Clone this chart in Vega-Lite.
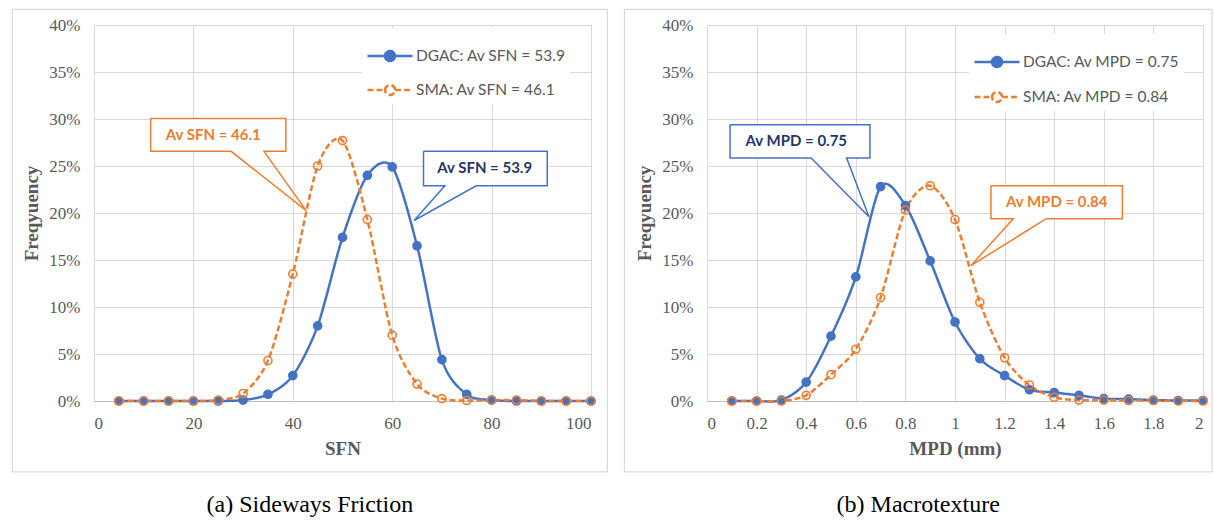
{
  "$schema": "https://vega.github.io/schema/vega-lite/v6.json",
  "background": "white",
  "padding": {"left": 11, "top": 8, "right": 0, "bottom": 0},
  "config": {
    "view": {"stroke": "#D9D9D9"},
    "axis": {
      "labelFont": "Liberation Serif", "labelFontSize": 17, "labelColor": "#595959",
      "titleFont": "Liberation Serif", "titleFontSize": 19, "titleFontWeight": "bold", "titleColor": "#595959",
      "gridColor": "#D9D9D9", "ticks": false, "domain": false
    },
    "axisX": {"domain": true, "domainColor": "#BFBFBF", "labelPadding": 14, "titlePadding": 8},
    "axisY": {"labelPadding": 14, "titlePadding": 7}
  },
  "datasets": {
    "sfn": [
      {"sfn": 5, "freq": 0, "series": "DGAC: Av SFN = 53.9"},
      {"sfn": 10, "freq": 0, "series": "DGAC: Av SFN = 53.9"},
      {"sfn": 15, "freq": 0, "series": "DGAC: Av SFN = 53.9"},
      {"sfn": 20, "freq": 0, "series": "DGAC: Av SFN = 53.9"},
      {"sfn": 25, "freq": 0, "series": "DGAC: Av SFN = 53.9"},
      {"sfn": 30, "freq": 0.001, "series": "DGAC: Av SFN = 53.9"},
      {"sfn": 35, "freq": 0.007, "series": "DGAC: Av SFN = 53.9"},
      {"sfn": 40, "freq": 0.027, "series": "DGAC: Av SFN = 53.9"},
      {"sfn": 45, "freq": 0.080, "series": "DGAC: Av SFN = 53.9"},
      {"sfn": 50, "freq": 0.174, "series": "DGAC: Av SFN = 53.9"},
      {"sfn": 55, "freq": 0.240, "series": "DGAC: Av SFN = 53.9"},
      {"sfn": 60, "freq": 0.249, "series": "DGAC: Av SFN = 53.9"},
      {"sfn": 65, "freq": 0.165, "series": "DGAC: Av SFN = 53.9"},
      {"sfn": 70, "freq": 0.044, "series": "DGAC: Av SFN = 53.9"},
      {"sfn": 75, "freq": 0.007, "series": "DGAC: Av SFN = 53.9"},
      {"sfn": 80, "freq": 0.001, "series": "DGAC: Av SFN = 53.9"},
      {"sfn": 85, "freq": 0, "series": "DGAC: Av SFN = 53.9"},
      {"sfn": 90, "freq": 0, "series": "DGAC: Av SFN = 53.9"},
      {"sfn": 95, "freq": 0, "series": "DGAC: Av SFN = 53.9"},
      {"sfn": 100, "freq": 0, "series": "DGAC: Av SFN = 53.9"},
      {"sfn": 5, "freq": 0, "series": "SMA: Av SFN = 46.1"},
      {"sfn": 10, "freq": 0, "series": "SMA: Av SFN = 46.1"},
      {"sfn": 15, "freq": 0, "series": "SMA: Av SFN = 46.1"},
      {"sfn": 20, "freq": 0, "series": "SMA: Av SFN = 46.1"},
      {"sfn": 25, "freq": 0.001, "series": "SMA: Av SFN = 46.1"},
      {"sfn": 30, "freq": 0.008, "series": "SMA: Av SFN = 46.1"},
      {"sfn": 35, "freq": 0.043, "series": "SMA: Av SFN = 46.1"},
      {"sfn": 40, "freq": 0.135, "series": "SMA: Av SFN = 46.1"},
      {"sfn": 45, "freq": 0.250, "series": "SMA: Av SFN = 46.1"},
      {"sfn": 50, "freq": 0.277, "series": "SMA: Av SFN = 46.1"},
      {"sfn": 55, "freq": 0.193, "series": "SMA: Av SFN = 46.1"},
      {"sfn": 60, "freq": 0.070, "series": "SMA: Av SFN = 46.1"},
      {"sfn": 65, "freq": 0.018, "series": "SMA: Av SFN = 46.1"},
      {"sfn": 70, "freq": 0.0025, "series": "SMA: Av SFN = 46.1"},
      {"sfn": 75, "freq": 0.0005, "series": "SMA: Av SFN = 46.1"},
      {"sfn": 80, "freq": 0.001, "series": "SMA: Av SFN = 46.1"},
      {"sfn": 85, "freq": 0.001, "series": "SMA: Av SFN = 46.1"},
      {"sfn": 90, "freq": 0, "series": "SMA: Av SFN = 46.1"},
      {"sfn": 95, "freq": 0, "series": "SMA: Av SFN = 46.1"},
      {"sfn": 100, "freq": 0, "series": "SMA: Av SFN = 46.1"}
    ],
    "mpd": [
      {"mpd": 0.1, "freq": 0, "series": "DGAC: Av MPD = 0.75"},
      {"mpd": 0.2, "freq": 0, "series": "DGAC: Av MPD = 0.75"},
      {"mpd": 0.3, "freq": 0.001, "series": "DGAC: Av MPD = 0.75"},
      {"mpd": 0.4, "freq": 0.020, "series": "DGAC: Av MPD = 0.75"},
      {"mpd": 0.5, "freq": 0.069, "series": "DGAC: Av MPD = 0.75"},
      {"mpd": 0.6, "freq": 0.132, "series": "DGAC: Av MPD = 0.75"},
      {"mpd": 0.7, "freq": 0.228, "series": "DGAC: Av MPD = 0.75"},
      {"mpd": 0.8, "freq": 0.208, "series": "DGAC: Av MPD = 0.75"},
      {"mpd": 0.9, "freq": 0.149, "series": "DGAC: Av MPD = 0.75"},
      {"mpd": 1.0, "freq": 0.084, "series": "DGAC: Av MPD = 0.75"},
      {"mpd": 1.1, "freq": 0.045, "series": "DGAC: Av MPD = 0.75"},
      {"mpd": 1.2, "freq": 0.027, "series": "DGAC: Av MPD = 0.75"},
      {"mpd": 1.3, "freq": 0.012, "series": "DGAC: Av MPD = 0.75"},
      {"mpd": 1.4, "freq": 0.009, "series": "DGAC: Av MPD = 0.75"},
      {"mpd": 1.5, "freq": 0.006, "series": "DGAC: Av MPD = 0.75"},
      {"mpd": 1.6, "freq": 0.0025, "series": "DGAC: Av MPD = 0.75"},
      {"mpd": 1.7, "freq": 0.002, "series": "DGAC: Av MPD = 0.75"},
      {"mpd": 1.8, "freq": 0.001, "series": "DGAC: Av MPD = 0.75"},
      {"mpd": 1.9, "freq": 0.0005, "series": "DGAC: Av MPD = 0.75"},
      {"mpd": 2.0, "freq": 0.0005, "series": "DGAC: Av MPD = 0.75"},
      {"mpd": 0.1, "freq": 0, "series": "SMA: Av MPD = 0.84"},
      {"mpd": 0.2, "freq": 0, "series": "SMA: Av MPD = 0.84"},
      {"mpd": 0.3, "freq": 0, "series": "SMA: Av MPD = 0.84"},
      {"mpd": 0.4, "freq": 0.006, "series": "SMA: Av MPD = 0.84"},
      {"mpd": 0.5, "freq": 0.028, "series": "SMA: Av MPD = 0.84"},
      {"mpd": 0.6, "freq": 0.055, "series": "SMA: Av MPD = 0.84"},
      {"mpd": 0.7, "freq": 0.110, "series": "SMA: Av MPD = 0.84"},
      {"mpd": 0.8, "freq": 0.203, "series": "SMA: Av MPD = 0.84"},
      {"mpd": 0.9, "freq": 0.229, "series": "SMA: Av MPD = 0.84"},
      {"mpd": 1.0, "freq": 0.193, "series": "SMA: Av MPD = 0.84"},
      {"mpd": 1.1, "freq": 0.105, "series": "SMA: Av MPD = 0.84"},
      {"mpd": 1.2, "freq": 0.046, "series": "SMA: Av MPD = 0.84"},
      {"mpd": 1.3, "freq": 0.017, "series": "SMA: Av MPD = 0.84"},
      {"mpd": 1.4, "freq": 0.004, "series": "SMA: Av MPD = 0.84"},
      {"mpd": 1.5, "freq": 0.001, "series": "SMA: Av MPD = 0.84"},
      {"mpd": 1.6, "freq": 0.001, "series": "SMA: Av MPD = 0.84"},
      {"mpd": 1.7, "freq": 0.0005, "series": "SMA: Av MPD = 0.84"},
      {"mpd": 1.8, "freq": 0.0005, "series": "SMA: Av MPD = 0.84"},
      {"mpd": 1.9, "freq": 0, "series": "SMA: Av MPD = 0.84"},
      {"mpd": 2.0, "freq": 0, "series": "SMA: Av MPD = 0.84"}
    ],
    "callouts": [
      {"id": "a_sma", "label": "Av SFN = 46.1", "x1": 11.4, "x2": 38.6, "y1": 0.2656, "y2": 0.3005, "tx": 24, "ty": 0.283},
      {"id": "a_dgac", "label": "Av SFN = 53.9", "x1": 66.3, "x2": 91.2, "y1": 0.229, "y2": 0.2656, "tx": 78.6, "ty": 0.2475},
      {"id": "b_dgac", "label": "Av MPD = 0.75", "x1": 0.093, "x2": 0.657, "y1": 0.2585, "y2": 0.294, "tx": 0.36, "ty": 0.2763},
      {"id": "b_sma", "label": "Av MPD = 0.84", "x1": 1.145, "x2": 1.675, "y1": 0.194, "y2": 0.229, "tx": 1.41, "ty": 0.2114}
    ],
    "outlines": [
      {"id": "a_sma", "i": 0, "x": 11.4, "y": 0.3005},
      {"id": "a_sma", "i": 1, "x": 38.6, "y": 0.3005},
      {"id": "a_sma", "i": 2, "x": 38.6, "y": 0.2656},
      {"id": "a_sma", "i": 3, "x": 34.2, "y": 0.2656},
      {"id": "a_sma", "i": 4, "x": 42.7, "y": 0.2025},
      {"id": "a_sma", "i": 5, "x": 27.6, "y": 0.2656},
      {"id": "a_sma", "i": 6, "x": 11.4, "y": 0.2656},
      {"id": "a_sma", "i": 7, "x": 11.4, "y": 0.3005},
      {"id": "a_dgac", "i": 0, "x": 66.3, "y": 0.2656},
      {"id": "a_dgac", "i": 1, "x": 91.2, "y": 0.2656},
      {"id": "a_dgac", "i": 2, "x": 91.2, "y": 0.229},
      {"id": "a_dgac", "i": 3, "x": 76.9, "y": 0.229},
      {"id": "a_dgac", "i": 4, "x": 64.4, "y": 0.192},
      {"id": "a_dgac", "i": 5, "x": 70.6, "y": 0.229},
      {"id": "a_dgac", "i": 6, "x": 66.3, "y": 0.229},
      {"id": "a_dgac", "i": 7, "x": 66.3, "y": 0.2656},
      {"id": "b_dgac", "i": 0, "x": 0.093, "y": 0.294},
      {"id": "b_dgac", "i": 1, "x": 0.657, "y": 0.294},
      {"id": "b_dgac", "i": 2, "x": 0.657, "y": 0.2585},
      {"id": "b_dgac", "i": 3, "x": 0.563, "y": 0.2585},
      {"id": "b_dgac", "i": 4, "x": 0.653, "y": 0.196},
      {"id": "b_dgac", "i": 5, "x": 0.42, "y": 0.2585},
      {"id": "b_dgac", "i": 6, "x": 0.093, "y": 0.2585},
      {"id": "b_dgac", "i": 7, "x": 0.093, "y": 0.294},
      {"id": "b_sma", "i": 0, "x": 1.145, "y": 0.229},
      {"id": "b_sma", "i": 1, "x": 1.675, "y": 0.229},
      {"id": "b_sma", "i": 2, "x": 1.675, "y": 0.194},
      {"id": "b_sma", "i": 3, "x": 1.368, "y": 0.194},
      {"id": "b_sma", "i": 4, "x": 1.064, "y": 0.144},
      {"id": "b_sma", "i": 5, "x": 1.235, "y": 0.194},
      {"id": "b_sma", "i": 6, "x": 1.145, "y": 0.194},
      {"id": "b_sma", "i": 7, "x": 1.145, "y": 0.229}
    ]
  },
  "spacing": 14,
  "resolve": {"scale": {"x": "independent", "y": "independent", "color": "independent", "strokeDash": "independent", "stroke": "independent", "fill": "independent"}},
  "hconcat": [
    {
      "width": 497, "height": 376,
      "title": {"text": "(a) Sideways Friction", "orient": "bottom", "anchor": "middle", "frame": "bounds", "font": "Liberation Serif", "fontSize": 24, "fontWeight": "normal", "color": "#000000", "offset": 20},
      "layer": [
        {
          "data": {"values": [{}]},
          "mark": {"type": "rect", "fillOpacity": 0, "stroke": "#D9D9D9", "strokeWidth": 1.2},
          "encoding": {
            "x": {"datum": -16.42, "type": "quantitative", "title": "SFN"},
            "x2": {"datum": 103.3},
            "y": {"datum": -0.0755, "type": "quantitative", "title": "Freqyuency"},
            "y2": {"datum": 0.4166}
          }
        },
        {
          "data": {"name": "sfn"},
          "mark": {"type": "line", "interpolate": "cardinal", "tension": 0.15, "strokeWidth": 2.5},
          "encoding": {
            "x": {"field": "sfn", "type": "quantitative", "title": "SFN", "scale": {"domain": [0, 100], "nice": false, "zero": false},
                  "axis": {"values": [0, 20, 40, 60, 80, 100], "format": "d", "grid": true}},
            "y": {"field": "freq", "type": "quantitative", "title": "Freqyuency", "scale": {"domain": [0, 0.4], "nice": false},
                  "axis": {"values": [0, 0.05, 0.1, 0.15, 0.2, 0.25, 0.3, 0.35, 0.4], "format": ".0%", "grid": true}},
            "color": {"field": "series", "type": "nominal",
              "scale": {"domain": ["DGAC: Av SFN = 53.9", "SMA: Av SFN = 46.1"], "range": ["#4472C4", "#ED7D31"]},
              "legend": {
                "title": null, "orient": "none", "legendX": 268, "legendY": 3, "fillColor": "white", "padding": 4,
                "symbolType": "M-1,0H-0.22M0.22,0H1M-0.22,0A0.22,0.22 0 1,1 0.22,0A0.22,0.22 0 1,1 -0.22,0",
                "symbolSize": 2025, "symbolStrokeWidth": 2.5, "rowPadding": 0, "labelOffset": 2,
                "labelFont": "Lato", "labelFontSize": 15.5, "labelColor": "#595959", "labelLimit": 300,
                "encode": {"symbols": {"update": {"fill": {"signal": "indexof(datum.value, 'SMA') === 0 ? 'white' : '#4472C4'"}}}}
              }},
            "strokeDash": {"field": "series", "type": "nominal",
              "scale": {"domain": ["DGAC: Av SFN = 53.9", "SMA: Av SFN = 46.1"], "range": [[1, 0], [6, 3]]}}
          }
        },
        {
          "data": {"name": "sfn"},
          "mark": {"type": "point", "shape": "circle", "filled": true, "size": 65, "strokeWidth": 1.6, "opacity": 1},
          "encoding": {
            "x": {"field": "sfn", "type": "quantitative", "title": "SFN"},
            "y": {"field": "freq", "type": "quantitative", "title": "Freqyuency"},
            "stroke": {"field": "series", "type": "nominal", "legend": null,
              "scale": {"domain": ["DGAC: Av SFN = 53.9", "SMA: Av SFN = 46.1"], "range": ["#4472C4", "#ED7D31"]}},
            "fill": {"field": "series", "type": "nominal", "legend": null,
              "scale": {"domain": ["DGAC: Av SFN = 53.9", "SMA: Av SFN = 46.1"], "range": ["#4472C4", "transparent"]}}
          }
        },
        {
          "data": {"name": "callouts"},
          "transform": [{"filter": "datum.id === 'a_sma' || datum.id === 'a_dgac'"}],
          "mark": {"type": "rect", "fill": "white"},
          "encoding": {
            "x": {"field": "x1", "type": "quantitative", "title": "SFN"},
            "x2": {"field": "x2"},
            "y": {"field": "y1", "type": "quantitative", "title": "Freqyuency"},
            "y2": {"field": "y2"}
          }
        },
        {
          "data": {"name": "outlines"},
          "transform": [{"filter": "datum.id === 'a_sma'"}],
          "mark": {"type": "line", "color": "#ED7D31", "strokeWidth": 1.5, "strokeJoin": "miter"},
          "encoding": {
            "x": {"field": "x", "type": "quantitative", "title": "SFN"},
            "y": {"field": "y", "type": "quantitative", "title": "Freqyuency"},
            "order": {"field": "i", "type": "quantitative"}
          }
        },
        {
          "data": {"name": "outlines"},
          "transform": [{"filter": "datum.id === 'a_dgac'"}],
          "mark": {"type": "line", "color": "#4472C4", "strokeWidth": 1.5, "strokeJoin": "miter"},
          "encoding": {
            "x": {"field": "x", "type": "quantitative", "title": "SFN"},
            "y": {"field": "y", "type": "quantitative", "title": "Freqyuency"},
            "order": {"field": "i", "type": "quantitative"}
          }
        },
        {
          "data": {"name": "callouts"},
          "transform": [{"filter": "datum.id === 'a_sma'"}],
          "mark": {"type": "text", "font": "Lato", "fontSize": 15, "fontWeight": "bold", "color": "#ED7D31", "baseline": "middle", "align": "center"},
          "encoding": {
            "x": {"field": "tx", "type": "quantitative", "title": "SFN"},
            "y": {"field": "ty", "type": "quantitative", "title": "Freqyuency"},
            "text": {"field": "label"}
          }
        },
        {
          "data": {"name": "callouts"},
          "transform": [{"filter": "datum.id === 'a_dgac'"}],
          "mark": {"type": "text", "font": "Lato", "fontSize": 15, "fontWeight": "bold", "color": "#1F3864", "baseline": "middle", "align": "center"},
          "encoding": {
            "x": {"field": "tx", "type": "quantitative", "title": "SFN"},
            "y": {"field": "ty", "type": "quantitative", "title": "Freqyuency"},
            "text": {"field": "label"}
          }
        }
      ]
    },
    {
      "width": 496, "height": 376,
      "title": {"text": "(b) Macrotexture", "orient": "bottom", "anchor": "middle", "frame": "bounds", "font": "Liberation Serif", "fontSize": 24, "fontWeight": "normal", "color": "#000000", "offset": 20},
      "layer": [
        {
          "data": {"values": [{}]},
          "mark": {"type": "rect", "fillOpacity": 0, "stroke": "#D9D9D9", "strokeWidth": 1.2},
          "encoding": {
            "x": {"datum": -0.3327, "type": "quantitative", "title": "MPD (mm)"},
            "x2": {"datum": 2.036},
            "y": {"datum": -0.0755, "type": "quantitative", "title": "Freqyuency"},
            "y2": {"datum": 0.4166}
          }
        },
        {
          "data": {"name": "mpd"},
          "mark": {"type": "line", "interpolate": "cardinal", "tension": 0.15, "strokeWidth": 2.5},
          "encoding": {
            "x": {"field": "mpd", "type": "quantitative", "title": "MPD (mm)", "scale": {"domain": [0, 2], "nice": false, "zero": false},
                  "axis": {"values": [0, 0.2, 0.4, 0.6, 0.8, 1, 1.2, 1.4, 1.6, 1.8, 2], "format": "~g", "grid": true}},
            "y": {"field": "freq", "type": "quantitative", "title": "Freqyuency", "scale": {"domain": [0, 0.4], "nice": false},
                  "axis": {"values": [0, 0.05, 0.1, 0.15, 0.2, 0.25, 0.3, 0.35, 0.4], "format": ".0%", "grid": true}},
            "color": {"field": "series", "type": "nominal",
              "scale": {"domain": ["DGAC: Av MPD = 0.75", "SMA: Av MPD = 0.84"], "range": ["#4472C4", "#ED7D31"]},
              "legend": {
                "title": null, "orient": "none", "legendX": 262, "legendY": 9, "fillColor": "white", "padding": 4,
                "symbolType": "M-1,0H-0.22M0.22,0H1M-0.22,0A0.22,0.22 0 1,1 0.22,0A0.22,0.22 0 1,1 -0.22,0",
                "symbolSize": 2025, "symbolStrokeWidth": 2.5, "rowPadding": 1, "labelOffset": 2,
                "labelFont": "Lato", "labelFontSize": 15.5, "labelColor": "#595959", "labelLimit": 300,
                "encode": {"symbols": {"update": {"fill": {"signal": "indexof(datum.value, 'SMA') === 0 ? 'white' : '#4472C4'"}}}}
              }},
            "strokeDash": {"field": "series", "type": "nominal",
              "scale": {"domain": ["DGAC: Av MPD = 0.75", "SMA: Av MPD = 0.84"], "range": [[1, 0], [6, 3]]}}
          }
        },
        {
          "data": {"name": "mpd"},
          "mark": {"type": "point", "shape": "circle", "filled": true, "size": 65, "strokeWidth": 1.6, "opacity": 1},
          "encoding": {
            "x": {"field": "mpd", "type": "quantitative", "title": "MPD (mm)"},
            "y": {"field": "freq", "type": "quantitative", "title": "Freqyuency"},
            "stroke": {"field": "series", "type": "nominal", "legend": null,
              "scale": {"domain": ["DGAC: Av MPD = 0.75", "SMA: Av MPD = 0.84"], "range": ["#4472C4", "#ED7D31"]}},
            "fill": {"field": "series", "type": "nominal", "legend": null,
              "scale": {"domain": ["DGAC: Av MPD = 0.75", "SMA: Av MPD = 0.84"], "range": ["#4472C4", "transparent"]}}
          }
        },
        {
          "data": {"name": "callouts"},
          "transform": [{"filter": "datum.id === 'b_sma' || datum.id === 'b_dgac'"}],
          "mark": {"type": "rect", "fill": "white"},
          "encoding": {
            "x": {"field": "x1", "type": "quantitative", "title": "MPD (mm)"},
            "x2": {"field": "x2"},
            "y": {"field": "y1", "type": "quantitative", "title": "Freqyuency"},
            "y2": {"field": "y2"}
          }
        },
        {
          "data": {"name": "outlines"},
          "transform": [{"filter": "datum.id === 'b_dgac'"}],
          "mark": {"type": "line", "color": "#4472C4", "strokeWidth": 1.5, "strokeJoin": "miter"},
          "encoding": {
            "x": {"field": "x", "type": "quantitative", "title": "MPD (mm)"},
            "y": {"field": "y", "type": "quantitative", "title": "Freqyuency"},
            "order": {"field": "i", "type": "quantitative"}
          }
        },
        {
          "data": {"name": "outlines"},
          "transform": [{"filter": "datum.id === 'b_sma'"}],
          "mark": {"type": "line", "color": "#ED7D31", "strokeWidth": 1.5, "strokeJoin": "miter"},
          "encoding": {
            "x": {"field": "x", "type": "quantitative", "title": "MPD (mm)"},
            "y": {"field": "y", "type": "quantitative", "title": "Freqyuency"},
            "order": {"field": "i", "type": "quantitative"}
          }
        },
        {
          "data": {"name": "callouts"},
          "transform": [{"filter": "datum.id === 'b_dgac'"}],
          "mark": {"type": "text", "font": "Lato", "fontSize": 15, "fontWeight": "bold", "color": "#1F3864", "baseline": "middle", "align": "center"},
          "encoding": {
            "x": {"field": "tx", "type": "quantitative", "title": "MPD (mm)"},
            "y": {"field": "ty", "type": "quantitative", "title": "Freqyuency"},
            "text": {"field": "label"}
          }
        },
        {
          "data": {"name": "callouts"},
          "transform": [{"filter": "datum.id === 'b_sma'"}],
          "mark": {"type": "text", "font": "Lato", "fontSize": 15, "fontWeight": "bold", "color": "#ED7D31", "baseline": "middle", "align": "center"},
          "encoding": {
            "x": {"field": "tx", "type": "quantitative", "title": "MPD (mm)"},
            "y": {"field": "ty", "type": "quantitative", "title": "Freqyuency"},
            "text": {"field": "label"}
          }
        }
      ]
    }
  ]
}
